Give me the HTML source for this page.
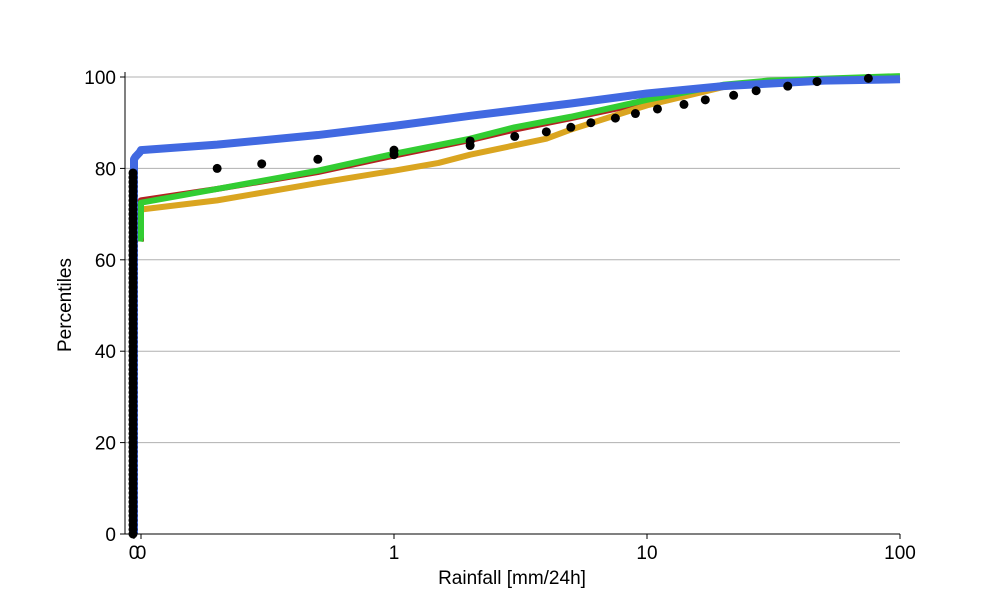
<!DOCTYPE html>
<html><head><meta charset="utf-8"><style>
body{margin:0;background:#fff;font-family:"Liberation Sans",sans-serif}
svg text{font-family:"Liberation Sans",sans-serif}
</style></head><body>
<svg id="chart" width="1000" height="600" xmlns="http://www.w3.org/2000/svg"></svg>
<script>
const xTicks=[0,0.1,1,10,100];
const xTickLabels=["0","0","1","10","100"];
const yTicks=[0,20,40,60,80,100];
const blueX=[0,0,0.02,0.05,0.08,0.1,0.2,0.5,1,2,5,10,20,50,100];
const blueY=[0,82,82.5,83,83.5,84,85.2,87.3,89.3,91.5,94.2,96.4,98,99.2,99.5];
const redX=[0.1,0.1,0.2,0.5,1,2,3,5,10,20,30,100];
const redY=[64,73,75.5,79.2,82.8,86.2,88.5,91,94.5,98,99,100];
const greenX=[0.09,0.1,0.1,0.2,0.5,1,2,3,5,10,20,30,100];
const greenY=[64,65,72.5,75.5,79.5,83.2,86.5,89,91.3,95,98.3,99.2,100.2];
const orangeX=[0.1,0.1,0.2,0.5,1,1.5,2,4,5,10,20,30,100];
const orangeY=[65,71,73,76.8,79.5,81.2,83,86.5,88.5,93.8,97.8,99,100];
const dotX=[0.2,0.3,0.5,1,1,2,2,3,4,5,6,7.5,9,11,14,17,22,27,36,47,75];
const dotY=[80,81,82,83,84,85,86,87,88,89,90,91,92,93,94,95,96,97,98,99,99.7];
const zeroDots=[];for(let i=0;i<=79;i++)zeroDots.push(i);

function X(v){ if(v<=0.1) return 134+v/0.1*7; return 394+253*Math.log10(v);}
function Y(v){ return 534-v*4.57;}
const svg=document.getElementById('chart');const NS="http://www.w3.org/2000/svg";
function el(t,a,p){const e=document.createElementNS(NS,t);for(const k in a)e.setAttribute(k,a[k]);(p||svg).appendChild(e);return e;}
yTicks.forEach(t=>{if(t>0){const g=el('line',{x1:125,x2:900,y1:Y(t),y2:Y(t),stroke:'#b0b0b0','stroke-width':1});

}
const tk=el('line',{x1:120,x2:125,y1:Y(t),y2:Y(t),stroke:'#000'});


const tx=el('text',{x:116,y:Y(t)+7,'text-anchor':'end','font-size':19});tx.textContent=t;

});
xTicks.forEach((t,i)=>{const tk=el('line',{x1:X(t),x2:X(t),y1:534,y2:539,stroke:'#000'});


const tx=el('text',{x:X(t),y:559,'text-anchor':'middle','font-size':19});tx.textContent=xTickLabels[i];

});
function line(xs,ys,c,w,n){const p=el('polyline',{points:xs.map((x,i)=>X(x)+','+Y(ys[i])).join(' '),fill:'none',stroke:c,'stroke-width':w,'stroke-linejoin':'round'});

}
line(redX,redY,'#b22222',6,'series-red');
line(orangeX,orangeY,'#daa520',6,'series-orange');
line(greenX,greenY,'#32cd32',6,'series-green');
line(blueX,blueY,'#4169e1',8,'series-blue');
zeroDots.forEach(v=>{const c=el('circle',{cx:X(0)-1,cy:Y(v),r:4.5,fill:'#000'});

});
dotX.forEach((x,i)=>{const c=el('circle',{cx:X(x),cy:Y(dotY[i]),r:4.5,fill:'#000'});

});
const ax=el('line',{x1:125,x2:125,y1:72,y2:534,stroke:'#000'});


const bx=el('line',{x1:125,x2:900,y1:534,y2:534,stroke:'#000'});


const xl=el('text',{x:512,y:584,'text-anchor':'middle','font-size':19});xl.textContent='Rainfall [mm/24h]';


const yl=el('text',{x:0,y:0,'text-anchor':'middle','font-size':19,transform:'translate(71,305) rotate(-90)'});yl.textContent='Percentiles';


</script>
</body></html>
